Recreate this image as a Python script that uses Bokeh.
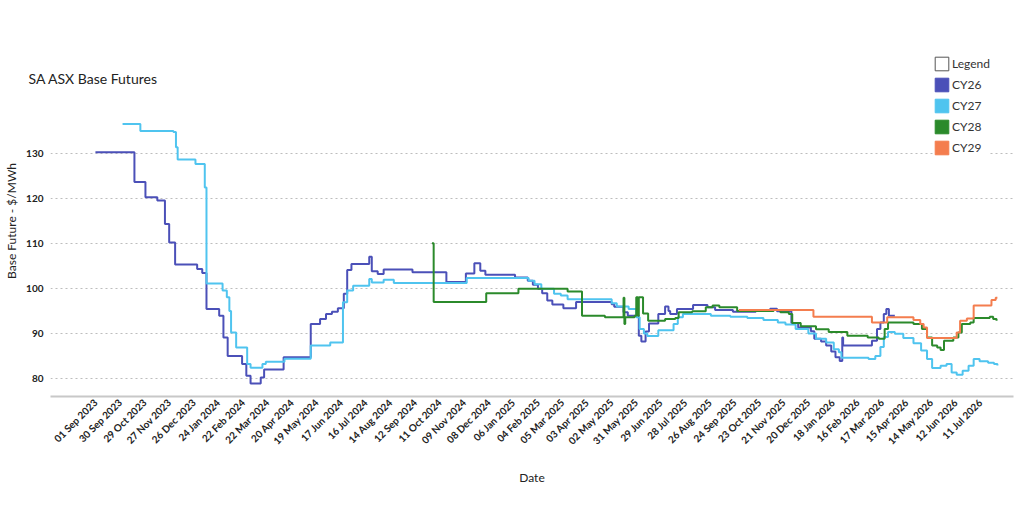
import pandas as pd
from datetime import datetime
from bokeh.plotting import figure
from bokeh.models import Range1d, FixedTicker, Legend, LegendItem
from bokeh.embed import file_html
from bokeh.resources import INLINE
import math

title_text = "SA ASX Base Futures"
y_label = "Base Future - $/MWh"
x_label = "Date"
y_ticks = [80, 90, 100, 110, 120, 130]
x_tick_labels = [
    "01 Sep 2023", "30 Sep 2023", "29 Oct 2023", "27 Nov 2023", "26 Dec 2023",
    "24 Jan 2024", "22 Feb 2024", "22 Mar 2024", "20 Apr 2024", "19 May 2024",
    "17 Jun 2024", "16 Jul 2024", "14 Aug 2024", "12 Sep 2024", "11 Oct 2024",
    "09 Nov 2024", "08 Dec 2024", "06 Jan 2025", "04 Feb 2025", "05 Mar 2025",
    "03 Apr 2025", "02 May 2025", "31 May 2025", "29 Jun 2025", "28 Jul 2025",
    "26 Aug 2025", "24 Sep 2025", "23 Oct 2025", "21 Nov 2025", "20 Dec 2025",
    "18 Jan 2026", "16 Feb 2026", "17 Mar 2026", "15 Apr 2026", "14 May 2026",
    "12 Jun 2026", "11 Jul 2026",
]

series_names = ["CY26", "CY27", "CY28", "CY29"]
series_colors = ["#4B50B8", "#4FC4EF", "#2B8A2B", "#F47D4E"]

cy26_dates = ["2023-09-01","2023-10-17","2023-10-30","2023-11-13","2023-11-22","2023-11-27","2023-12-04","2023-12-30","2024-01-05","2024-01-10","2024-01-25","2024-01-30","2024-02-04","2024-02-21","2024-02-26","2024-03-02","2024-03-14","2024-03-18","2024-04-10","2024-05-12","2024-05-23","2024-05-30","2024-06-06","2024-06-13","2024-06-20","2024-06-24","2024-06-29","2024-07-20","2024-07-23","2024-07-30","2024-08-06","2024-09-09","2024-10-19","2024-11-11","2024-11-21","2024-11-28","2024-12-04","2025-01-08","2025-01-23","2025-01-29","2025-02-04","2025-02-09","2025-02-15","2025-02-21","2025-03-06","2025-03-21","2025-05-02","2025-05-05","2025-05-16","2025-05-21","2025-06-03","2025-06-06","2025-06-11","2025-06-15","2025-06-26","2025-07-04","2025-07-08","2025-07-10","2025-07-18","2025-08-06","2025-08-23","2025-09-01","2025-09-22","2025-10-19","2025-11-05","2025-11-13","2025-11-30","2025-12-08","2025-12-23","2025-12-27","2026-01-04","2026-01-10","2026-01-16","2026-01-21","2026-01-26","2026-01-29","2026-01-30","2026-03-05","2026-03-11","2026-03-15","2026-03-19","2026-03-22","2026-03-25","2026-04-01"]
cy26_values = [130.2,123.6,120.2,119.5,114.3,110.2,105.3,104.3,103.4,95.4,93.9,89.1,85.0,83.2,80.6,78.9,80.2,82.0,84.7,92.1,93.2,94.3,94.8,95.6,98.8,104.1,105.4,107.0,103.8,103.2,104.2,103.6,101.4,103.3,105.6,103.9,103.0,102.4,101.7,100.8,99.9,98.9,97.3,96.4,95.6,97.0,96.5,95.9,94.7,93.9,89.5,88.2,90.4,92.2,94.3,96.0,95.0,94.3,95.4,96.3,95.8,95.2,94.8,95.0,95.5,94.9,92.3,91.3,90.5,88.8,88.2,87.3,86.0,84.7,83.9,89.1,87.3,88.4,91.0,92.4,94.3,95.4,93.9,93.9]

cy27_dates = ["2023-10-03","2023-10-24","2023-12-02","2023-12-05","2023-12-07","2023-12-28","2024-01-08","2024-01-10","2024-01-29","2024-02-03","2024-02-06","2024-02-08","2024-02-14","2024-02-27","2024-03-02","2024-03-16","2024-03-20","2024-04-11","2024-05-12","2024-06-04","2024-06-19","2024-06-24","2024-07-01","2024-07-20","2024-07-23","2024-08-06","2024-08-18","2024-11-12","2025-01-24","2025-01-31","2025-02-08","2025-02-23","2025-03-03","2025-03-11","2025-05-02","2025-05-08","2025-05-22","2025-05-31","2025-06-04","2025-06-09","2025-06-13","2025-06-26","2025-07-14","2025-07-19","2025-07-25","2025-08-27","2025-09-19","2025-10-09","2025-10-28","2025-11-14","2025-11-23","2025-12-05","2025-12-20","2025-12-29","2026-01-10","2026-01-19","2026-01-25","2026-01-28","2026-03-01","2026-03-09","2026-03-15","2026-03-19","2026-03-24","2026-04-01","2026-04-11","2026-04-23","2026-05-02","2026-05-09","2026-05-15","2026-05-25","2026-06-01","2026-06-07","2026-06-13","2026-06-20","2026-06-27","2026-07-03","2026-07-10","2026-07-20","2026-07-27","2026-07-31"]
cy27_values = [136.5,134.9,134.7,131.3,128.6,127.6,122.4,101.1,99.5,98.0,95.0,90.2,86.9,83.2,82.4,83.2,83.7,84.4,87.3,88.0,96.9,99.5,100.6,102.1,101.3,101.9,101.2,102.3,101.7,100.9,99.9,98.8,98.4,97.6,96.7,96.0,95.4,93.6,91.0,90.0,89.4,90.7,92.1,93.6,94.3,93.9,93.7,93.4,93.0,92.4,92.0,91.0,90.0,88.8,88.0,86.5,85.8,84.6,84.3,85.0,87.0,89.2,90.3,89.9,89.0,87.8,86.2,84.3,82.3,82.8,83.2,81.3,80.8,81.7,82.8,84.3,83.8,83.5,83.2,82.9]

cy28_dates = ["2024-10-02","2024-10-04","2024-12-05","2025-01-12","2025-03-11","2025-03-28","2025-04-24","2025-05-16","2025-05-17","2025-05-18","2025-05-29","2025-05-31","2025-06-02","2025-06-03","2025-06-08","2025-06-14","2025-07-04","2025-07-16","2025-07-20","2025-08-05","2025-08-21","2025-08-29","2025-09-06","2025-09-27","2025-11-09","2025-11-17","2025-11-27","2025-12-01","2025-12-11","2025-12-29","2026-01-13","2026-02-04","2026-02-28","2026-03-13","2026-03-20","2026-03-24","2026-04-23","2026-05-03","2026-05-09","2026-05-15","2026-05-21","2026-05-25","2026-05-29","2026-06-09","2026-06-15","2026-06-19","2026-06-29","2026-07-03","2026-07-22","2026-07-26","2026-07-30"]
cy28_values = [110.0,97.0,98.9,99.9,99.3,93.9,93.6,97.9,92.1,93.6,93.9,98.0,93.9,98.0,94.4,92.8,93.2,93.4,94.7,94.9,95.8,96.2,95.8,95.0,95.2,94.7,94.3,92.3,91.6,90.9,90.3,89.5,89.1,88.8,91.0,92.4,92.1,91.0,89.1,87.3,86.9,86.3,88.4,89.1,90.2,92.1,92.4,93.4,93.7,93.2,92.8]

cy29_dates = ["2025-09-29","2025-12-26","2026-03-05","2026-03-23","2026-04-23","2026-05-01","2026-05-05","2026-05-09","2026-06-13","2026-06-17","2026-06-25","2026-07-03","2026-07-24","2026-07-29","2026-07-31"]
cy29_values = [95.2,93.7,92.4,93.6,93.0,92.1,91.3,89.0,90.2,92.8,93.3,96.2,97.4,97.9,97.9]

all_dates = [cy26_dates, cy27_dates, cy28_dates, cy29_dates]
all_values = [cy26_values, cy27_values, cy28_values, cy29_values]

FONT = "Lato"
NAN = float("nan")

p = figure(width=1024, height=508, x_axis_type="datetime",
           output_backend="svg", toolbar_location=None,
           x_range=Range1d(datetime(2023, 7, 10), datetime(2026, 8, 19)),
           y_range=Range1d(76.0, 153.9),
           min_border_left=50, min_border_right=11, min_border_top=45,
           min_border_bottom=112, outline_line_color=None,
           background_fill_color="white", border_fill_color="white")

p.title.text = title_text
p.title.align = "left"
p.title.offset = -22
p.title.standoff = -82
p.title.text_font = FONT
p.title.text_font_size = "14px"
p.title.text_font_style = "normal"
p.title.text_color = "#222222"

for d, v, c in zip(all_dates, all_values, series_colors):
    p.step(pd.to_datetime(d), v, mode="after", line_color=c, line_width=2)

# axes
tick_ts = pd.to_datetime(x_tick_labels, format="%d %b %Y")
tick_ms = [float(t.value // 10**6) for t in tick_ts]
p.xaxis.ticker = FixedTicker(ticks=tick_ms)
p.xaxis.major_label_overrides = {ms: lab for ms, lab in zip(tick_ms, x_tick_labels)}
p.xaxis.major_label_orientation = math.pi / 4
p.xaxis.axis_label = x_label
p.xaxis.axis_line_color = "#c8c8c8"
p.xaxis.axis_line_width = 2
p.xaxis.major_label_standoff = 4
p.xaxis.axis_label_standoff = 16

p.yaxis.ticker = FixedTicker(ticks=y_ticks)
p.yaxis.axis_label = y_label
p.yaxis.axis_line_color = None
p.yaxis.major_label_standoff = 7
p.yaxis.axis_label_standoff = 4

for ax in (p.xaxis, p.yaxis):
    ax.major_tick_line_color = None
    ax.minor_tick_line_color = None
    ax.major_tick_out = 0
    ax.major_tick_in = 0
    ax.minor_tick_out = 0
    ax.minor_tick_in = 0
    ax.major_label_text_font = FONT
    ax.major_label_text_font_size = "10px"
    ax.major_label_text_font_style = "bold"
    ax.major_label_text_color = "#222222"
    ax.axis_label_text_font = FONT
    ax.axis_label_text_font_size = "12px"
    ax.axis_label_text_font_style = "normal"
    ax.axis_label_text_color = "#222222"

p.xgrid.grid_line_color = None
p.ygrid.grid_line_color = "#bdbdbd"
p.ygrid.grid_line_dash = "2 3"
p.ygrid.grid_line_width = 1

# legend (square swatches, not drawn in the plot area)
items = []
r0 = p.quad(left=[NAN], right=[NAN], top=[NAN], bottom=[NAN], fill_color="white",
            line_color="#555555", line_width=1)
items.append(LegendItem(label="Legend", renderers=[r0]))
for name, c in zip(series_names, series_colors):
    r = p.quad(left=[NAN], right=[NAN], top=[NAN], bottom=[NAN],
               fill_color=c, line_color=c)
    items.append(LegendItem(label=name, renderers=[r]))

legend = Legend(items=items, location=(883, 240), glyph_width=17, glyph_height=17,
                spacing=4, padding=4, margin=0, label_standoff=2,
                label_text_font=FONT, label_text_font_size="12px",
                label_text_color="#333333", border_line_color=None,
                background_fill_color="white", background_fill_alpha=1.0)
p.add_layout(legend)

open("out.html", "w").write(file_html(p, INLINE))
